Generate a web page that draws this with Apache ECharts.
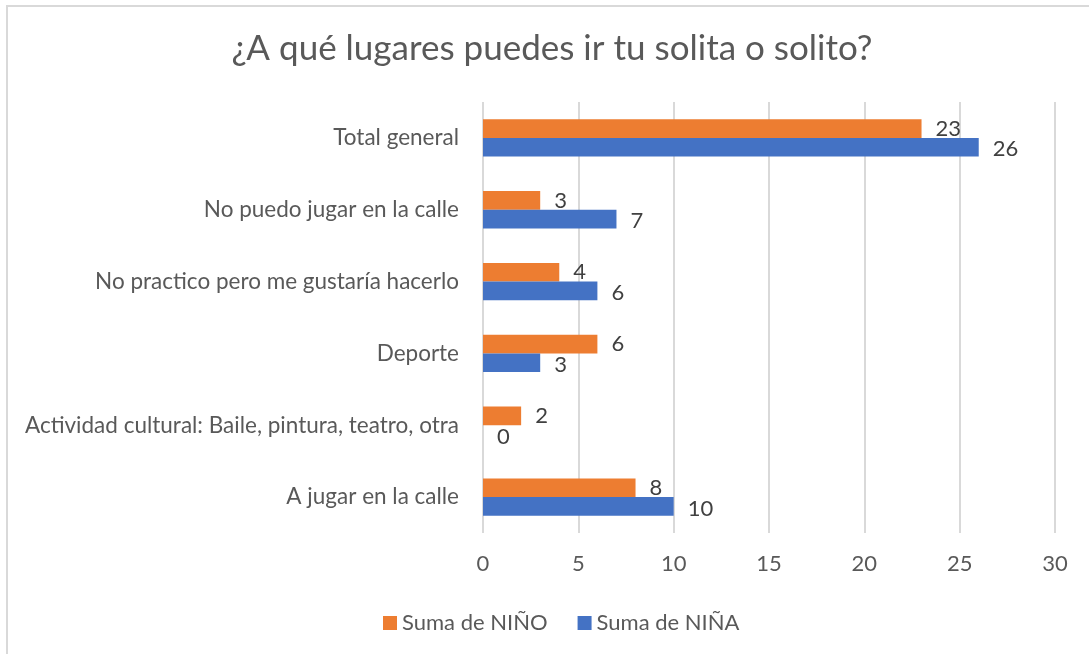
<!DOCTYPE html>
<html>
<head>
<meta charset="utf-8">
<title>¿A qué lugares puedes ir tu solita o solito?</title>
<script src="https://cdn.jsdelivr.net/npm/echarts@6/dist/echarts.min.js"></script>
<style>
  html, body { margin: 0; padding: 0; background: #fff; }
  .wrap { position: relative; width: 1089px; height: 654px; overflow: hidden; }
  #chart { width: 1089px; height: 654px; position: relative; }
  /* marco gris del gráfico (solo se ven el borde izquierdo y el superior) */
  .frame {
    position: absolute;
    left: 6px;
    top: 5px;
    width: 1200px;
    height: 800px;
    border: 2px solid #d9d9d9;
    box-sizing: border-box;
    pointer-events: none;
  }
</style>
</head>
<body>
<div class="wrap">
  <div class="frame"></div>
  <div id="chart"></div>
</div>
<script>
// categorías de abajo hacia arriba (como en el eje de Excel)
const categories = [
  'A jugar en la calle',
  'Actividad cultural: Baile, pintura, teatro, otra',
  'Deporte',
  'No practico pero me gustaría hacerlo',
  'No puedo jugar en la calle',
  'Total general'
]
const ninoValues = [8, 2, 6, 4, 3, 23]
const ninaValues = [10, 0, 3, 6, 7, 26]
const xTicks = [0, 5, 10, 15, 20, 25, 30]

const textColor = '#595959'
const fontFamily = 'Lato, "Open Sans", sans-serif'

const chart = echarts.init(document.getElementById('chart'))

// etiqueta de valor a la derecha de cada barra
function valueLabel (dy) {
  return {
    show: true,
    position: 'right',
    distance: 14,
    offset: [0, dy],
    color: '#404040',
    fontSize: 22,
    fontFamily: fontFamily
  }
}

const option = {
  animation: false,
  title: {
    text: '¿A qué lugares puedes ir tu solita o solito?',
    left: 547,
    top: 26,
    textAlign: 'center',
    textStyle: {
      color: textColor,
      fontSize: 35,
      fontWeight: 'normal',
      fontFamily: fontFamily
    }
  },
  legend: {
    data: ['Suma de NIÑO', 'Suma de NIÑA'],
    left: 378,
    top: 607,
    itemWidth: 14,
    itemHeight: 14,
    itemGap: 30,
    icon: 'rect',
    textStyle: {
      color: textColor,
      fontSize: 22,
      fontFamily: fontFamily
    }
  },
  grid: {
    left: 483,
    right: 34,
    top: 102,
    bottom: 121
  },
  xAxis: {
    type: 'value',
    min: 0,
    max: 30,
    interval: 5,
    axisLine: { show: false },
    axisTick: { show: false },
    splitLine: { show: true, lineStyle: { color: '#d9d9d9', width: 2 } },
    axisLabel: {
      color: textColor,
      fontSize: 22,
      fontFamily: fontFamily,
      margin: 20,
      formatter: (v) => (xTicks.indexOf(v) >= 0 ? String(v) : '')
    }
  },
  yAxis: {
    type: 'category',
    data: categories,
    axisLine: { show: false },
    axisTick: { show: false },
    axisLabel: {
      color: textColor,
      fontSize: 22.5,
      fontFamily: fontFamily,
      margin: 24
    }
  },
  series: [
    {
      name: 'Suma de NIÑO',
      type: 'bar',
      data: ninoValues,
      barGap: '0%',
      barCategoryGap: '48%',
      itemStyle: { color: '#ED7D31' },
      label: valueLabel(0)
    },
    {
      name: 'Suma de NIÑA',
      type: 'bar',
      data: ninaValues,
      barGap: '0%',
      barCategoryGap: '48%',
      itemStyle: { color: '#4472C4' },
      label: valueLabel(2)
    }
  ]
}

chart.setOption(option)
</script>
</body>
</html>
